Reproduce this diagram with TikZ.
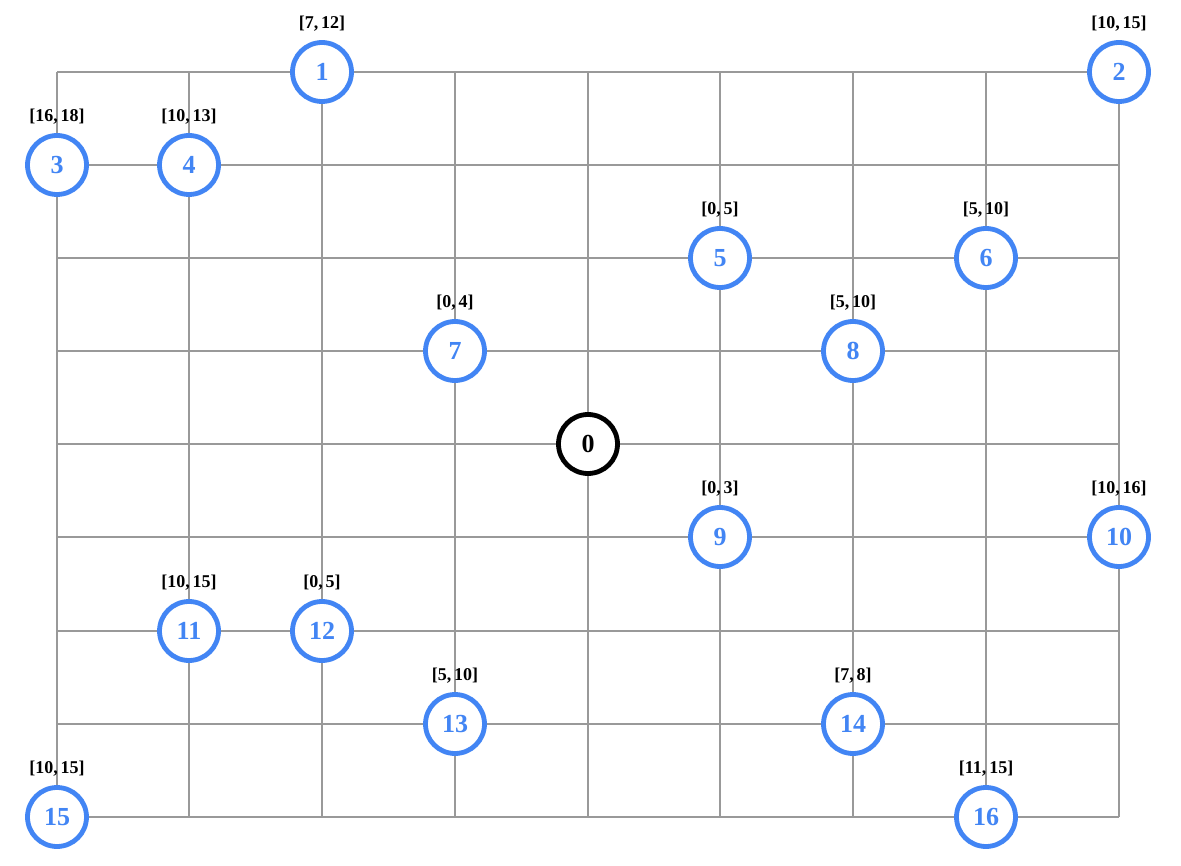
\documentclass[tikz,border=0pt]{standalone}
\usepackage{fontspec}
\setmainfont{Liberation Serif}
\definecolor{nblue}{HTML}{4285F4}
\definecolor{gridg}{HTML}{999999}
\begin{document}
\begin{tikzpicture}[x=1pt,y=-1pt,
  gridline/.style={draw=gridg,line width=1.6pt},
  vtx/.style={circle,draw=nblue,line width=4.8pt,fill=white,minimum size=59pt,inner sep=0pt,font=\fontsize{26}{26}\selectfont\bfseries,text=nblue},
  root/.style={vtx,draw=black,text=black},
  lab/.style={font=\fontsize{18}{18}\selectfont\bfseries}]
\useasboundingbox (0,0) rectangle (1181,866);
\foreach \x in {57,189,322,455,588,720,853,986,1119} \draw[gridline] (\x,72) -- (\x,817);
\foreach \y in {72,165,258,351,444,537,631,724,817} \draw[gridline] (57,\y) -- (1119,\y);
\foreach \n/\x/\y/\l in {1/322/72/{[7,\,12]},2/1119/72/{[10,\,15]},3/57/165/{[16,\,18]},4/189/165/{[10,\,13]},
 5/720/258/{[0,\,5]},6/986/258/{[5,\,10]},7/455/351/{[0,\,4]},8/853/351/{[5,\,10]},9/720/537/{[0,\,3]},
 10/1119/537/{[10,\,16]},11/189/631/{[10,\,15]},12/322/631/{[0,\,5]},13/455/724/{[5,\,10]},14/853/724/{[7,\,8]},
 15/57/817/{[10,\,15]},16/986/817/{[11,\,15]}}{
  \node[vtx] (v\n) at (\x,\y) {\n};
  \node[lab] (l\n) at (\x,\y-48) {\l};
}
\node[root] (v0) at (588,444) {0};
\end{tikzpicture}
\end{document}
